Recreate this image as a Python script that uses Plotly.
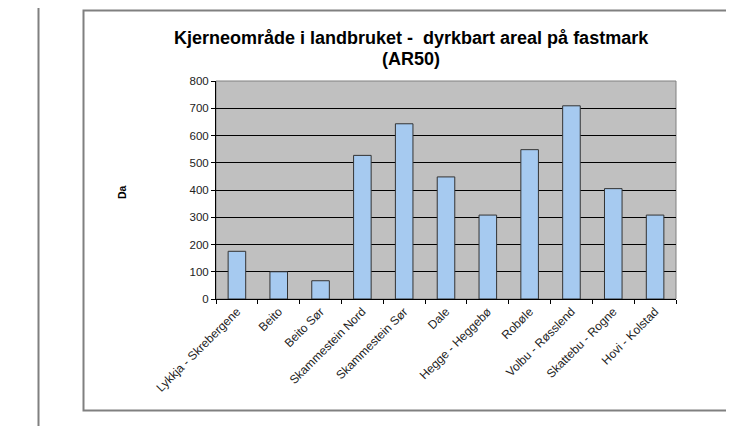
import plotly.graph_objects as go

categories = ["Lykkja - Skrebergene", "Beito", "Beito Sør", "Skammestein Nord",
              "Skammestein Sør", "Dale", "Hegge - Heggebø", "Robøle",
              "Volbu - Røsslend", "Skattebu - Rogne", "Hovi - Kolstad"]
values = [175, 100, 67, 527, 643, 448, 308, 548, 709, 405, 308]
y_ticks = [0, 100, 200, 300, 400, 500, 600, 700, 800]

OFF = 8  # default page body margin
W, H = 734 - OFF, 426 - OFF
L, R, T, B = 216 - OFF, 676 - OFF, 81 - OFF, 299 - OFF

def px(x):
    return (x - OFF - L) / (R - L)

def py(y):
    return (B - (y - OFF)) / (B - T)

FONT = "Liberation Sans, Arial, sans-serif"

fig = go.Figure(go.Bar(
    x=categories, y=values,
    marker=dict(color="#A6CAF0", line=dict(color="#333333", width=1)),
))

fig.update_layout(
    width=W, height=H,
    margin=dict(l=L, r=W - R, t=T, b=H - B),
    paper_bgcolor="white", plot_bgcolor="#C0C0C0",
    bargap=0.58, showlegend=False,
    font=dict(family=FONT, size=11, color="#222222"),
    shapes=[
        dict(type="line", xref="paper", yref="paper", x0=px(38.5), x1=px(38.5),
             y0=py(0), y1=py(426), line=dict(color="#808080", width=2)),
        dict(type="rect", xref="paper", yref="paper", x0=px(83.5), x1=px(745),
             y0=py(10.5), y1=py(410.5), line=dict(color="#808080", width=2)),
        dict(type="rect", xref="paper", yref="paper", x0=0, x1=1, y0=0, y1=1,
             line=dict(color="#808080", width=1), layer="below"),
    ],
    annotations=[
        dict(text="<b>Kjerneområde i landbruket -  dyrkbart areal på fastmark</b>",
             xref="paper", yref="paper", x=px(411), y=py(38), xanchor="center", yanchor="middle",
             showarrow=False, font=dict(size=18, color="black", family=FONT)),
        dict(text="<b>(AR50)</b>",
             xref="paper", yref="paper", x=px(411), y=py(59), xanchor="center", yanchor="middle",
             showarrow=False, font=dict(size=18, color="black", family=FONT)),
        dict(text="<b>Da</b>", xref="paper", yref="paper", x=px(122), y=py(192),
             xanchor="center", yanchor="middle",
             textangle=-90, showarrow=False, font=dict(size=10.5, color="black", family=FONT)),
    ],
)

fig.update_xaxes(
    tickangle=-45, ticks="outside", tickson="boundaries", ticklen=4,
    tickcolor="black", showline=True, linecolor="black", linewidth=1,
    showgrid=False, tickfont=dict(size=12, color="#222222"),
)
fig.update_yaxes(
    range=[0, 800], tickvals=y_ticks, ticks="outside", ticklen=4,
    tickcolor="black", showline=True, linecolor="black", linewidth=1,
    showgrid=True, gridcolor="black", gridwidth=1, zeroline=False,
    tickfont=dict(size=11.5, color="#222222"),
)

fig.write_html("out.html")
